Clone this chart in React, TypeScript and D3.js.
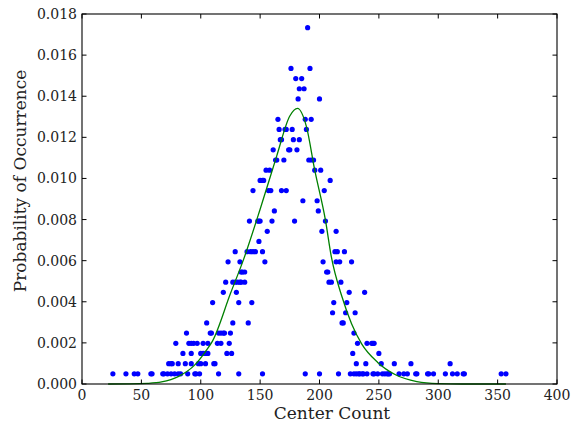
import React from "react";
import * as d3 from "d3";

// Scatter data: center count (x) and number of occurrences (normalised by total)
const centerCounts = [
  26, 37, 44, 47, 58, 59, 68, 69, 72, 73, 75, 75, 76, 78, 79, 81, 81, 83, 85, 87,
  88, 89, 90, 92, 92, 92, 94, 95, 96, 97, 98, 99, 100, 100, 102, 102, 104, 104, 105, 106,
  106, 108, 109, 110, 111, 112, 114, 115, 115, 117, 117, 119, 119, 120, 121, 122, 123, 124, 125, 126,
  127, 127, 129, 129, 130, 131, 132, 132, 133, 133, 134, 134, 135, 137, 137, 139, 140, 141, 142, 143,
  144, 144, 146, 148, 149, 149, 150, 150, 152, 152, 152, 153, 154, 155, 156, 157, 158, 159, 160, 161,
  162, 163, 164, 165, 166, 167, 168, 168, 170, 171, 172, 172, 174, 175, 176, 177, 178, 179, 180, 181,
  182, 183, 183, 185, 186, 187, 188, 188, 189, 190, 191, 192, 193, 193, 195, 196, 198, 199, 200, 200,
  201, 202, 203, 204, 205, 206, 207, 208, 209, 210, 211, 212, 213, 214, 214, 215, 216, 217, 218, 219,
  220, 221, 222, 223, 225, 226, 227, 228, 229, 229, 230, 231, 231, 232, 233, 234, 236, 237, 238, 239,
  240, 240, 244, 245, 245, 246, 246, 249, 250, 252, 253, 255, 257, 258, 259, 263, 267, 271, 274, 277,
  281, 282, 291, 292, 296, 306, 310, 312, 316, 321, 322, 353, 357,
];
const occurrences = [
  1, 1, 1, 1, 1, 1, 1, 1, 1, 2, 1, 2, 2, 1, 4, 1, 2, 1, 3, 2,
  5, 1, 4, 2, 3, 4, 4, 1, 1, 4, 2, 1, 2, 3, 3, 4, 2, 3, 6, 3,
  4, 5, 5, 8, 2, 2, 4, 1, 5, 4, 5, 5, 9, 5, 10, 3, 12, 4, 5, 3,
  6, 10, 10, 13, 9, 10, 1, 8, 10, 12, 10, 11, 11, 10, 11, 13, 6, 16, 13, 8,
  13, 19, 13, 16, 14, 16, 16, 20, 1, 13, 20, 20, 12, 21, 15, 19, 21, 19, 16, 23,
  17, 22, 22, 26, 25, 24, 19, 24, 22, 25, 19, 25, 23, 23, 31, 25, 24, 16, 30, 23,
  28, 24, 29, 30, 18, 29, 1, 26, 25, 35, 22, 31, 22, 26, 22, 21, 18, 17, 1, 28,
  21, 15, 12, 19, 16, 11, 11, 10, 20, 10, 7, 8, 13, 12, 15, 13, 1, 12, 10, 6,
  6, 13, 7, 8, 9, 1, 12, 3, 1, 5, 7, 1, 2, 4, 1, 1, 1, 1, 9, 2,
  1, 4, 4, 1, 4, 1, 4, 1, 3, 2, 1, 1, 1, 1, 1, 2, 1, 1, 1, 2,
  1, 1, 1, 1, 1, 1, 2, 1, 1, 1, 1, 1, 1,
];

// Fitted curve
const curveX = [22, 40, 55, 67, 81, 95, 104, 110, 125, 136, 150, 164, 175, 181.5, 189, 196, 205, 210, 219, 227, 235.5, 249, 264, 282, 300, 320, 357];
const curveP = [0, 0.000005, 0.00003, 0.0001, 0.00036, 0.00093, 0.00158, 0.0021, 0.0044, 0.00605, 0.0085, 0.0111, 0.01304, 0.01341, 0.01252, 0.0104, 0.00797, 0.00618, 0.00423, 0.00293, 0.00195, 0.00105, 0.00045, 0.00012, 0.00002, 0, 0];

const xTicks = [0, 50, 100, 150, 200, 250, 300, 350, 400];
const yTicks = [0, 0.002, 0.004, 0.006, 0.008, 0.01, 0.012, 0.014, 0.016, 0.018];
const xLabel = "Center Count";
const yLabel = "Probability of Occurrence";

const W = 585;
const H = 424;
const M = { left: 82, right: 557, top: 14, bottom: 384 };
const FONT = "'DejaVu Serif', serif";

export default function App() {
  const total = d3.sum(occurrences);
  const x = d3.scaleLinear().domain([0, 400]).range([M.left, M.right]);
  const y = d3.scaleLinear().domain([0, 0.018]).range([M.bottom, M.top]);
  const points = centerCounts.map((c, i) => ({ c, p: occurrences[i] / total }));
  const curve = curveX.map((c, i) => [c, curveP[i]] as [number, number]);
  const line = d3
    .line<[number, number]>()
    .x((d) => x(d[0]))
    .y((d) => y(d[1]))
    .curve(d3.curveMonotoneX);
  const tl = 4.5;
  return (
    <svg
      width={W}
      height={H}
      style={{ position: "absolute", left: 0, top: 0, display: "block", background: "#fff" }}
    >
      <rect x={0} y={0} width={W} height={H} fill="#fff" />
      {points.map((d, i) => (
        <circle key={i} cx={x(d.c)} cy={y(d.p)} r={2.6} fill="#0000ff" />
      ))}
      <path d={line(curve) ?? ""} fill="none" stroke="#008000" strokeWidth={1.3} />
      {xTicks.map((t) => (
        <g key={"x" + t}>
          <line x1={x(t)} x2={x(t)} y1={M.bottom} y2={M.bottom - tl} stroke="#000" strokeWidth={1} />
          <line x1={x(t)} x2={x(t)} y1={M.top} y2={M.top + tl} stroke="#000" strokeWidth={1} />
          <text x={x(t)} y={400} textAnchor="middle" fontFamily={FONT} fontSize={14} fill="#222">
            {t}
          </text>
        </g>
      ))}
      {yTicks.map((t) => (
        <g key={"y" + t}>
          <line x1={M.left} x2={M.left + tl} y1={y(t)} y2={y(t)} stroke="#000" strokeWidth={1} />
          <line x1={M.right} x2={M.right - tl} y1={y(t)} y2={y(t)} stroke="#000" strokeWidth={1} />
          <text
            x={77}
            y={y(t)}
            dy="0.36em"
            textAnchor="end"
            fontFamily={FONT}
            fontSize={14}
            fill="#222"
          >
            {d3.format(".3f")(t)}
          </text>
        </g>
      ))}
      <rect
        x={M.left}
        y={M.top}
        width={M.right - M.left}
        height={M.bottom - M.top}
        fill="none"
        stroke="#000"
        strokeWidth={1.1}
      />
      <text x={332} y={419} textAnchor="middle" fontFamily={FONT} fontSize={17} fill="#222">
        {xLabel}
      </text>
      <text
        transform={`translate(26, 181) rotate(-90)`}
        textAnchor="middle"
        fontFamily={FONT}
        fontSize={17}
        fill="#222"
      >
        {yLabel}
      </text>
    </svg>
  );
}
